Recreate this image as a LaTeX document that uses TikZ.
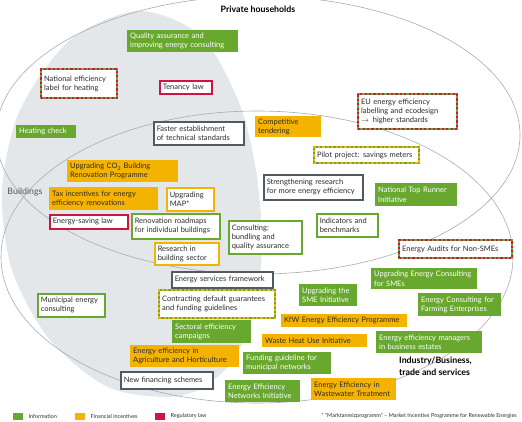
\documentclass[tikz,border=0pt]{standalone}
\usepackage{fontspec}
\setmainfont{Lato}
\usepackage{xcolor}
\usetikzlibrary{positioning}
\definecolor{infogreen}{HTML}{69A82F}
\definecolor{moneyorange}{HTML}{F5B301}
\definecolor{lawred}{HTML}{CE1443}
\definecolor{slate}{HTML}{4F5A63}
\definecolor{buildgrey}{HTML}{E4E7EA}
\definecolor{setline}{HTML}{A6ABB0}
\definecolor{textmain}{HTML}{2B2B2B}

\begin{document}
\begin{tikzpicture}[
    x=1pt, y=-1pt,
    every node/.style={font=\fontsize{7.5}{9.2}\selectfont, inner xsep=3pt, inner ysep=1.5pt,
                       anchor=north west, align=left},
    info/.style={rectangle, fill=infogreen, text=white},
    infoline/.style={rectangle, draw=infogreen, line width=1.5pt, fill=white, text=textmain},
    money/.style={rectangle, fill=moneyorange, text=textmain},
    moneyline/.style={rectangle, draw=moneyorange, line width=1.5pt, fill=white, text=textmain},
    law/.style={rectangle, draw=lawred, line width=1.5pt, fill=white, text=textmain},
    other/.style={rectangle, draw=slate, line width=1.5pt, fill=white, text=textmain},
    lawinfo/.style={rectangle, draw=lawred, line width=2.2pt, dash pattern=on 2.2pt off 2.2pt,
                    text=textmain, preaction={draw=infogreen, fill=white, solid}},
    moneyinfo/.style={rectangle, draw=moneyorange, line width=2.2pt, dash pattern=on 2.2pt off 2.2pt,
                      text=textmain, preaction={draw=infogreen, fill=white, solid}},
    box/.style 2 args={text width=#1, minimum height=#2},
    setlabel/.style={font=\fontsize{8.8}{12}\selectfont\bfseries, text=black, inner sep=0pt},
    legendtext/.style={font=\fontsize{5.5}{6}\selectfont, text=textmain, inner sep=0pt, anchor=west},
    legendkey/.style={minimum width=10pt, minimum height=7pt, inner sep=0pt, anchor=west}
  ]
    \useasboundingbox (0,0) rectangle (522,421);

    % the three fields
    \fill[buildgrey] plot[smooth cycle] coordinates {(138,11) (200,35) (238,100) (256,170)
      (262,250) (252,320) (225,370) (180,396) (110,388) (50,340) (12,270) (2,190) (20,110) (70,40)};
    \draw[setline, line width=0.6pt] (258,135) ellipse [x radius=262pt, y radius=139pt];
    \draw[setline, line width=0.6pt] (257,257) ellipse [x radius=256pt, y radius=146pt];

    \node[setlabel, anchor=center] (hhlabel) at (258,9) {Private households};
    \node[font=\fontsize{8.8}{10}\selectfont, text=slate, inner sep=0pt, anchor=center] (bldlabel) at (25,192) {Buildings};
    \node[setlabel] (indlabel) at (399,357) {Industry/Business,\\trade and services};

    % measures
    \node[info, box={105pt}{22pt}] (qa) at (127,30) {Quality assurance and\\improving energy consulting};
    \node[lawinfo, box={70pt}{29pt}] (natlabel) at (40,68) {National efficiency\\label for heating};
    \node[law, box={46pt}{13pt}] (tenancy) at (159,80) {Tenancy law};
    \node[info, box={54pt}{13pt}] (heatcheck) at (16,125) {Heating check};
    \node[other, box={84pt}{23pt}] (faster) at (153,121) {Faster establishment\\of technical standards};
    \node[money, box={60pt}{21pt}] (tender) at (255,116) {Competitive\\tendering};
    \node[lawinfo, box={93pt}{35pt}] (eulabel) at (357,93) {EU energy efficiency\\labelling and ecodesign\\$\rightarrow$\enspace higher standards};
    \node[moneyinfo, box={99pt}{16pt}] (pilot) at (313,146) {Pilot project: savings meters};
    \node[money, box={105pt}{22pt}] (co2) at (67,160) {Upgrading CO\textsubscript{2} Building\\Renovation Programme};
    \node[money, box={103pt}{23pt}] (tax) at (49,187) {Tax incentives for energy\\efficiency renovations};
    \node[moneyline, box={41pt}{23pt}] (map) at (166,187) {Upgrading\\MAP*};
    \node[other, box={93pt}{25pt}] (strength) at (263,174) {Strengthening research\\for more energy efficiency};
    \node[info, box={76pt}{23pt}] (toprunner) at (375,183) {National Top Runner\\Initiative};
    \node[law, box={72pt}{14pt}] (esavlaw) at (49,214) {Energy-saving law};
    \node[infoline, box={82pt}{25pt}] (roadmap) at (131,213) {Renovation roadmaps\\for individual buildings};
    \node[infoline, box={67pt}{33pt}] (consult) at (228,220) {Consulting:\\bundling and\\quality assurance};
    \node[infoline, box={55pt}{23pt}] (indic) at (316,213) {Indicators and\\benchmarks};
    \node[moneyline, box={58pt}{22pt}] (research) at (154,242) {Research in\\building sector};
    \node[lawinfo, box={107pt}{18pt}] (audits) at (398,239) {Energy Audits for Non-SMEs};
    \node[other, box={95pt}{16pt}] (esf) at (171,271) {Energy services framework};
    \node[info, box={100pt}{21pt}] (smecons) at (371,268) {Upgrading Energy Consulting\\for SMEs};
    \node[info, box={52pt}{22pt}] (smeinit) at (299,284) {Upgrading the\\SME Initiative};
    \node[infoline, box={61pt}{23pt}] (municipal) at (37,293) {Municipal energy\\consulting};
    \node[moneyinfo, box={110pt}{28pt}] (contract) at (158,289) {Contracting default guarantees\\and funding guidelines};
    \node[info, box={77pt}{23pt}] (farming) at (418,293) {Energy Consulting for\\Farming Enterprises};
    \node[money, box={120pt}{13pt}] (kfw) at (281,314) {KfW Energy Efficiency Programme};
    \node[info, box={73pt}{23pt}] (sectoral) at (172,320) {Sectoral efficiency\\campaigns};
    \node[money, box={99pt}{13pt}] (wasteheat) at (262,334) {Waste Heat Use Initiative};
    \node[info, box={100pt}{22pt}] (managers) at (376,331) {Energy efficiency managers\\in business estates};
    \node[money, box={103pt}{22pt}] (agri) at (130,345) {Energy efficiency in\\Agriculture and Horticulture};
    \node[info, box={82pt}{22pt}] (munnet) at (243,352) {Funding guideline for\\municipal networks};
    \node[other, box={86pt}{17pt}] (newfin) at (120,371) {New financing schemes};
    \node[info, box={69pt}{22pt}] (eenet) at (225,380) {Energy Efficiency\\Networks Initiative};
    \node[money, box={79pt}{22pt}] (wastewater) at (311,378) {Energy Efficiency in\\Wastewater Treatment};

    % legend
    \node[info, legendkey] (keyinfo) at (13,416) {};
    \node[legendtext, right=5pt of keyinfo] (txtinfo) {Information};
    \node[money, legendkey] (keymoney) at (75,416) {};
    \node[legendtext, right=5pt of keymoney] (txtmoney) {Financial incentives};
    \node[law, legendkey, draw=none, fill=lawred] (keylaw) at (154,416) {};
    \node[legendtext, right=5pt of keylaw] (txtlaw) {Regulatory law};
    \node[legendtext, anchor=east] (footnote) at (517,416) {* “Marktanreizprogramm” – Market Incentive Programme for Renewable Energies};
\end{tikzpicture}
\end{document}
